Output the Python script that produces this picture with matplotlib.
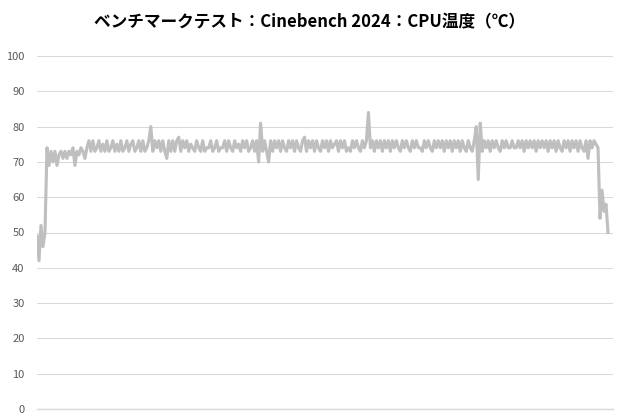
import matplotlib.pyplot as plt

plt.rcParams['font.family'] = ['Noto Sans CJK JP', 'DejaVu Sans']

TITLE = "ベンチマークテスト：Cinebench 2024：CPU温度（℃）"

# CPU temperature samples
start_temp = [49, 42, 52, 46, 50, 74]
warmup_temp = [69, 73, 70, 73, 69, 72, 73, 71, 73, 71, 73, 72, 74, 69, 73, 72, 74, 73, 71, 74, 76]
run_temp_1 = [73, 76, 73, 74, 76, 73, 75, 73, 76, 73, 74, 76, 73, 75, 73, 76, 73, 74, 76, 73,
              75, 76, 73, 74, 76, 73, 76, 73, 74, 76,
              80,
              73, 76, 74, 76, 73, 76, 73,
              71]
run_temp_2 = [76, 73, 76, 73, 76, 77, 73, 76, 74, 76, 73, 75, 74, 73, 76, 74, 73, 76, 73, 74,
              74, 76, 73, 74, 76, 73, 74, 74, 76, 73, 76, 74, 73, 76, 74, 75, 73, 76, 74, 76,
              73, 74, 76, 73, 76,
              70, 81, 73, 76, 73, 70, 76]
run_temp_3 = [73, 76, 74, 76, 73, 76, 74, 73, 76, 74, 76, 73, 76, 74, 73, 76, 77, 73, 76, 74,
              76, 73, 76, 74, 73, 76, 74, 76, 73, 76, 74, 75, 76, 73, 76, 74, 76, 73, 74, 73,
              76, 74, 76, 74, 73, 76, 74, 76,
              84]
run_temp_4 = [74, 76, 73, 76, 74, 76, 73, 76, 74, 76, 73, 76, 74, 76, 74, 73, 76, 74, 76, 74,
              73, 76, 74, 76, 74, 74, 73, 76, 74, 76, 74, 73, 76, 74, 76, 74, 76, 73, 76, 74,
              76, 73, 76, 74, 76, 73, 76, 74, 73, 76, 74, 73, 76,
              80, 65, 81, 73]
run_temp_5 = [76, 74, 76, 73, 76, 74, 76, 74, 73, 76, 74, 76, 74, 74, 76, 74, 74, 76, 74, 76,
              73, 76, 74, 76, 74, 76, 73, 76, 74, 76, 74, 76, 73, 76, 74, 76, 73, 76, 74, 73,
              76, 74, 76, 73, 76, 74, 76, 73, 76, 74, 73, 76, 71, 76, 74, 76, 75]
end_temp = [74, 54, 62, 56, 58, 50]

temps = start_temp + warmup_temp + run_temp_1 + run_temp_2 + run_temp_3 + run_temp_4 + run_temp_5 + end_temp
samples = list(range(len(temps)))

fig = plt.figure(figsize=(6.2, 4.2), dpi=100)
ax = fig.add_axes([37 / 620, 11 / 420, 576 / 620, 353 / 420])

ax.plot(samples, temps, color='#bfbfbf', linewidth=2.25, solid_joinstyle='round', zorder=3)

ax.set_ylim(0, 100)
ax.set_yticks(range(0, 101, 10))
ax.set_xlim(0, len(temps) + 1.5)
ax.set_xticks([])
ax.grid(axis='y', color='#d9d9d9', linewidth=0.75)
# bottom gridline sits on the axes edge, draw it unclipped
ax.axhline(0, color='#d9d9d9', linewidth=1.0, clip_on=False, zorder=1)
ax.set_axisbelow(True)
for side in ['top', 'right', 'left', 'bottom']:
    ax.spines[side].set_visible(False)
ax.tick_params(axis='y', length=0, pad=9, labelsize=8, labelcolor='#595959')

fig.text(0.5, 1 - 22 / 420, TITLE, ha='center', va='center', fontsize=12, fontweight='bold', color='#000000')

fig.savefig('out.png', dpi=100)
